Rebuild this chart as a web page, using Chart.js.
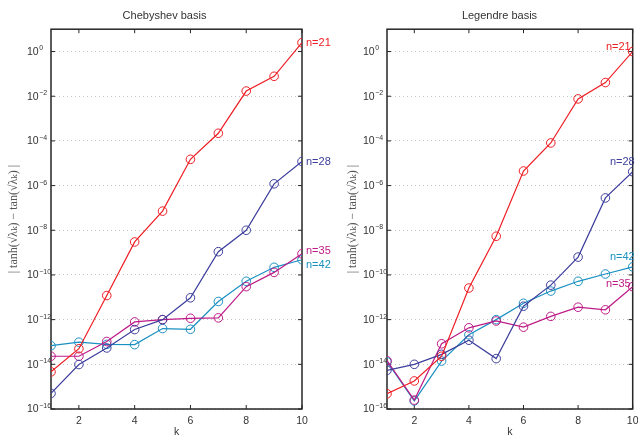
<!DOCTYPE html>
<html>
<head>
<meta charset="utf-8">
<script src="https://cdn.jsdelivr.net/npm/chart.js@4.4.1/dist/chart.umd.min.js"></script>
<style>
  body { margin: 0; background: #fff; width: 638px; height: 438px; overflow: hidden; position: relative; }
  .panel { position: absolute; top: 0; height: 438px; }
</style>
</head>
<body>
<div class="panel" style="left:0;width:336px"><canvas id="cheb"></canvas></div>
<div class="panel" style="left:336px;width:302px"><canvas id="leg"></canvas></div>
<script>
// values
const kValues = [1, 2, 3, 4, 5, 6, 7, 8, 9, 10];
const seriesNames = ["n=21", "n=28", "n=35", "n=42"];
const seriesColors = ["#ee1d23", "#3d3e9c", "#bd1a86", "#1b90c2"];

const chebN21 = [4.6e-15, 5.0e-14, 1.2e-11, 3.0e-9, 7.2e-8, 1.5e-5, 2.2e-4, 1.7e-2, 7.8e-2, 2.5];
const chebN28 = [5.0e-16, 9.8e-15, 5.4e-14, 3.6e-13, 1.0e-12, 9.5e-12, 1.1e-9, 1.0e-8, 1.2e-6, 1.2e-5];
const chebN35 = [2.3e-14, 2.3e-14, 1.05e-13, 7.9e-13, 1.0e-12, 1.15e-12, 1.2e-12, 3.0e-11, 1.3e-10, 8.9e-10];
const chebN42 = [6.8e-14, 9.8e-14, 7.8e-14, 7.6e-14, 4.0e-13, 3.7e-13, 6.5e-12, 5.2e-11, 2.2e-10, 4.8e-10];

const legN21 = [4.8e-16, 1.8e-15, 2.3e-14, 2.6e-11, 5.4e-9, 4.5e-6, 8.1e-5, 7.6e-3, 4.1e-2, 1.0];
const legN28 = [5.4e-15, 1.0e-14, 2.8e-14, 1.2e-13, 1.8e-14, 4.0e-12, 3.5e-11, 6.3e-10, 2.8e-7, 4.2e-6];
const legN35 = [1.45e-14, 2.5e-16, 8.3e-14, 4.3e-13, 8.7e-13, 4.6e-13, 1.4e-12, 3.6e-12, 2.75e-12, 3.0e-11];
const legN42 = [1.3e-14, 2.3e-16, 1.4e-14, 2.1e-13, 1.0e-12, 5.4e-12, 1.9e-11, 5.2e-11, 1.1e-10, 2.3e-10];

const xTicks = [2, 4, 6, 8, 10];
const yTickExps = [-16, -14, -12, -10, -8, -6, -4, -2, 0];
const yTitle = "| tanh(\u221A\u03BB\u2096) \u2212 tan(\u221A\u03BB\u2096) |";

const SANS = "'Liberation Sans', Arial, sans-serif";

// box, inward tick marks, 10^n tick labels, y label, end-of-line labels
const framePlugin = {
  id: "frame",
  beforeDatasetsDraw(chart) {
    const { ctx, chartArea: a, scales: { x, y } } = chart;
    ctx.save();
    ctx.strokeStyle = "#262626";
    ctx.lineWidth = 1;
    ctx.beginPath();
    x.ticks.forEach(t => {
      const px = x.getPixelForValue(t.value);
      ctx.moveTo(px, a.bottom); ctx.lineTo(px, a.bottom - 4);
      ctx.moveTo(px, a.top); ctx.lineTo(px, a.top + 4);
    });
    y.ticks.forEach(t => {
      const py = y.getPixelForValue(t.value);
      ctx.moveTo(a.left, py); ctx.lineTo(a.left + 4, py);
      ctx.moveTo(a.right, py); ctx.lineTo(a.right - 4, py);
    });
    ctx.stroke();
    ctx.lineWidth = 1.5;
    ctx.strokeRect(a.left, a.top, a.right - a.left, a.bottom - a.top);

    // tick labels as 10 with a raised exponent
    ctx.fillStyle = "#333";
    ctx.textBaseline = "middle";
    ctx.textAlign = "left";
    const lx = a.left - 24;
    y.ticks.forEach(t => {
      const py = y.getPixelForValue(t.value);
      const exp = String(Math.round(Math.log10(t.value))).replace("-", "\u2212");
      ctx.font = "10.5px " + SANS;
      ctx.fillText("10", lx, py + 0.5);
      const w = ctx.measureText("10").width;
      ctx.font = "7px " + SANS;
      ctx.fillText(exp, lx + w + 0.5, py - 3);
    });
    ctx.restore();
  },
  afterDraw(chart, args, opts) {
    const { ctx, chartArea: a } = chart;
    ctx.save();
    ctx.translate(opts.titleX, (a.top + a.bottom) / 2);
    ctx.rotate(-Math.PI / 2);
    ctx.fillStyle = "#555";
    ctx.font = "12px 'Liberation Serif', 'DejaVu Serif', serif";
    ctx.textAlign = "center";
    ctx.textBaseline = "middle";
    ctx.fillText(yTitle, 0, 0);
    ctx.restore();

    ctx.save();
    ctx.font = "11px " + SANS;
    ctx.textBaseline = "middle";
    chart.data.datasets.forEach((ds, i) => {
      const pts = chart.getDatasetMeta(i).data;
      const p = pts[pts.length - 1];
      const pos = opts.labels[i];
      ctx.fillStyle = ds.borderColor;
      ctx.textAlign = pos.align;
      ctx.fillText(ds.label, p.x + pos.dx, p.y + pos.dy);
    });
    ctx.restore();
  }
};

function makeChart(id, title, series, labelPos, rightPad, titleX) {
  return new Chart(document.getElementById(id), {
    type: "line",
    data: {
      datasets: series.map((vals, i) => ({
        label: seriesNames[i],
        data: vals.map((v, j) => ({ x: kValues[j], y: v })),
        borderColor: seriesColors[i],
        backgroundColor: "transparent",
        borderWidth: 1.2,
        pointRadius: 4.3,
        pointBorderWidth: 1,
        pointBackgroundColor: "transparent",
        pointBorderColor: seriesColors[i],
        tension: 0
      }))
    },
    options: {
      responsive: true,
      maintainAspectRatio: false,
      animation: false,
      layout: { padding: { left: 27, right: rightPad, top: 0, bottom: 0 } },
      plugins: {
        legend: { display: false },
        tooltip: { enabled: false },
        title: {
          display: true,
          text: title,
          color: "#333",
          font: { family: SANS, size: 11, weight: "normal" },
          padding: { top: 9, bottom: 7 }
        },
        frame: { labels: labelPos, titleX: titleX }
      },
      scales: {
        x: {
          type: "linear",
          min: 1,
          max: 10,
          afterBuildTicks: s => { s.ticks = xTicks.map(v => ({ value: v })); },
          afterFit: s => { s.height = 29; s.paddingLeft = 0; s.paddingRight = 0; },
          grid: { display: false },
          border: { display: false },
          ticks: {
            color: "#333",
            padding: -2,
            font: { family: SANS, size: 10.5 }
          },
          title: {
            display: true,
            text: "k",
            color: "#333",
            padding: { top: 0, bottom: 0 },
            font: { family: SANS, size: 10.5 }
          }
        },
        y: {
          type: "logarithmic",
          min: 1e-16,
          max: 10,
          afterBuildTicks: s => { s.ticks = yTickExps.map(e => ({ value: Math.pow(10, e) })); },
          afterFit: s => { s.width = 24; s.paddingTop = 0; s.paddingBottom = 0; },
          grid: { color: "#c4c4c4", lineWidth: 1, drawTicks: false },
          border: { display: false, dash: [1, 3] },
          ticks: { display: false }
        }
      }
    },
    plugins: [framePlugin]
  });
}

makeChart("cheb", "Chebyshev basis", [chebN21, chebN28, chebN35, chebN42], [
  { dx: 4, dy: 0, align: "left" },
  { dx: 4, dy: 0, align: "left" },
  { dx: 4, dy: -3, align: "left" },
  { dx: 4, dy: 5, align: "left" }
], 34, 14);

makeChart("leg", "Legendre basis", [legN21, legN28, legN35, legN42], [
  { dx: -2, dy: -5, align: "right" },
  { dx: 2, dy: -10, align: "right" },
  { dx: -2, dy: -3, align: "right" },
  { dx: 2, dy: -10, align: "right" }
], 2, 17);
</script>
</body>
</html>
